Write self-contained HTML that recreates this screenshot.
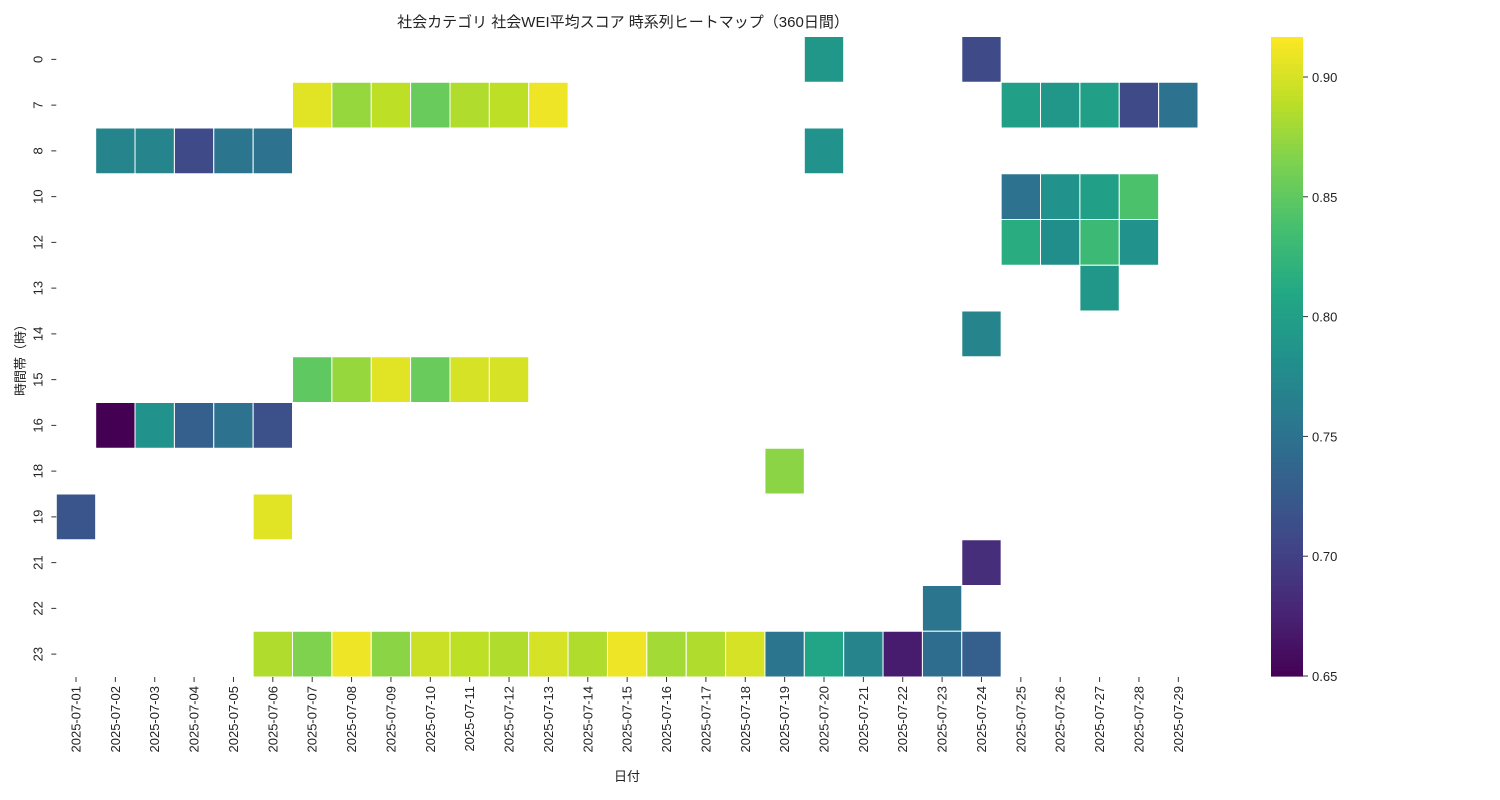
<!DOCTYPE html>
<html><head><meta charset="utf-8">
<style>
body{margin:0;background:#fff;}
svg{display:block;font-family:"Liberation Sans","Noto Sans CJK JP",sans-serif;}
</style></head>
<body>
<svg id="chart" width="1500" height="800" xmlns="http://www.w3.org/2000/svg">
<text x="623" y="27" text-anchor="middle" font-size="15" fill="#222">社会カテゴリ 社会WEI平均スコア 時系列ヒートマップ（360日間）</text>
<text x="627" y="781" text-anchor="middle" font-size="13" fill="#222">日付</text>
<text transform="translate(25,357) rotate(-90)" text-anchor="middle" font-size="13" fill="#222">時間帯（時）</text>
<g id="cells"></g><g id="xt"></g><g id="yt"></g><g id="cb"></g>
</svg>
<script>
const dates=["2025-07-01","2025-07-02","2025-07-03","2025-07-04","2025-07-05","2025-07-06","2025-07-07","2025-07-08","2025-07-09","2025-07-10","2025-07-11","2025-07-12","2025-07-13","2025-07-14","2025-07-15","2025-07-16","2025-07-17","2025-07-18","2025-07-19","2025-07-20","2025-07-21","2025-07-22","2025-07-23","2025-07-24","2025-07-25","2025-07-26","2025-07-27","2025-07-28","2025-07-29"];
const hours=[0,7,8,10,12,13,14,15,16,18,19,21,22,23];
const cbTicks=[0.65,0.70,0.75,0.80,0.85,0.90];
// [hour, dateIndex, value]
const row0=[[0,19,0.79],[0,23,0.71]];
const row7=[[7,6,0.905],[7,7,0.875],[7,8,0.89],[7,9,0.855],[7,10,0.885],[7,11,0.89],[7,12,0.91],[7,24,0.80],[7,25,0.79],[7,26,0.80],[7,27,0.71],[7,28,0.75]];
const row8=[[8,1,0.77],[8,2,0.77],[8,3,0.71],[8,4,0.755],[8,5,0.75],[8,19,0.785]];
const row10=[[10,24,0.75],[10,25,0.785],[10,26,0.80],[10,27,0.84]];
const row12=[[12,24,0.815],[12,25,0.78],[12,26,0.83],[12,27,0.785]];
const row13=[[13,26,0.79]];
const row14=[[14,23,0.77]];
const row15=[[15,6,0.85],[15,7,0.875],[15,8,0.905],[15,9,0.855],[15,10,0.9],[15,11,0.9]];
const row16=[[16,1,0.65],[16,2,0.785],[16,3,0.73],[16,4,0.75],[16,5,0.715]];
const row18=[[18,18,0.87]];
const row19=[[19,0,0.72],[19,5,0.905]];
const row21=[[21,23,0.685]];
const row22=[[22,22,0.755]];
const row23=[[23,5,0.885],[23,6,0.865],[23,7,0.91],[23,8,0.87],[23,9,0.895],[23,10,0.89],[23,11,0.885],[23,12,0.9],[23,13,0.885],[23,14,0.91],[23,15,0.88],[23,16,0.885],[23,17,0.9],[23,18,0.755],[23,19,0.805],[23,20,0.77],[23,21,0.67],[23,22,0.745],[23,23,0.73]];
const VMIN=0.65,VMAX=0.9167;
const L=56.3,R=1198,T=36.5,B=677;
const cw=(R-L)/dates.length,rh=(B-T)/hours.length;
const xPos=i=>L+i*cw;
const yPos=h=>T+hours.indexOf(h)*rh;
const stops=["#440154","#482475","#414487","#355f8d","#2a788e","#21918c","#22a884","#44bf70","#7ad151","#bddf26","#fde725"];
function hex(c){return [1,3,5].map(i=>parseInt(c.substr(i,2),16));}
function color(v){let t=Math.max(0,Math.min(1,(v-VMIN)/(VMAX-VMIN)))*10;let i=Math.min(9,Math.floor(t)),f=t-i;let a=hex(stops[i]),b=hex(stops[i+1]);return "rgb("+a.map((x,k)=>Math.round(x+(b[k]-x)*f)).join(",")+")";}
const NS="http://www.w3.org/2000/svg";
function mk(tag,attrs,parent){const e=document.createElementNS(NS,tag);for(const k in attrs)e.setAttribute(k,attrs[k]);parent.appendChild(e);return e;}
const cells=document.getElementById("cells");
[row0,row7,row8,row10,row12,row13,row14,row15,row16,row18,row19,row21,row22,row23].forEach(r=>r.forEach(([h,d,v])=>{
 const e=mk("rect",{x:xPos(d),y:yPos(h),width:cw,height:rh,fill:color(v),stroke:"#fff","stroke-width":1},cells);
 
 
}));
const xt=document.getElementById("xt");
dates.forEach((d,i)=>{const cx=xPos(i)+cw/2;
 mk("line",{x1:cx,x2:cx,y1:B,y2:B+5,stroke:"#333"},xt);
 const t=mk("text",{transform:`translate(${cx+4.5},${B+9}) rotate(-90)`,"text-anchor":"end","font-size":13,fill:"#222"},xt);t.textContent=d;
 
 
});
const yt=document.getElementById("yt");
hours.forEach(h=>{const cy=yPos(h)+rh/2;
 mk("line",{x1:L-5,x2:L,y1:cy,y2:cy,stroke:"#333"},yt);
 const t=mk("text",{transform:`translate(${L-14},${cy}) rotate(-90)`,"text-anchor":"middle","font-size":13,fill:"#222"},yt);t.textContent=h;
 
 
});
const cb=document.getElementById("cb");


const CX=1271,CW=32,CT=37,CB=676;
const N=120;
for(let k=0;k<N;k++){const v=VMIN+(VMAX-VMIN)*(k+0.5)/N;const y0=CB-(k+1)*(CB-CT)/N;
 mk("rect",{x:CX,y:y0,width:CW,height:(CB-CT)/N+0.6,fill:color(v)},cb);}
cbTicks.forEach(v=>{const y=CB-(v-VMIN)/(VMAX-VMIN)*(CB-CT);
 mk("line",{x1:CX+CW,x2:CX+CW+5,y1:y,y2:y,stroke:"#333"},cb);
 const t=mk("text",{x:CX+CW+9,y:y+5,"font-size":13,fill:"#222"},cb);t.textContent=v.toFixed(2);
 
 
});
</script>
</body></html>
